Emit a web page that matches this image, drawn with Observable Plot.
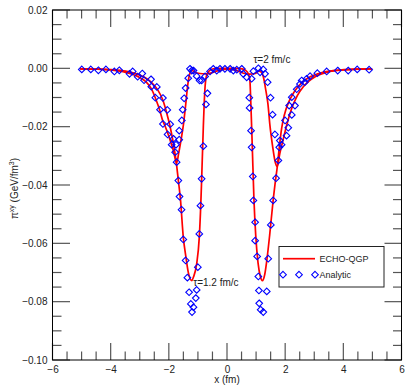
<!DOCTYPE html>
<html><head><meta charset="utf-8">
<script src="https://cdn.jsdelivr.net/npm/d3@7"></script>
<script src="https://cdn.jsdelivr.net/npm/@observablehq/plot@0.6"></script>
<style>body{margin:0;background:#fff;}</style>
</head><body><div id="chart"></div>
<script>
// ECHO-QGP curve, tau = 1.2 fm/c
const echoX12 = [-5.05,-4.5,-4.0,-3.5,-3.0,-2.8,-2.6,-2.4,-2.22,-2.1,-1.98,-1.85,-1.75,-1.69,-1.62,-1.52,-1.43,-1.35,-1.23,-1.17,-1.06,-0.97,-0.92,-0.89,-0.83,-0.78,-0.72,-0.62,-0.45,-0.2,0,0.2,0.45,0.62,0.72,0.77,0.80,0.85,0.91,0.97,1.05,1.13,1.20,1.28,1.36,1.45,1.57,1.64,1.71,1.78,1.86,1.95,2.10,2.30,2.55,2.80,3.00,3.50,4.00,4.50,4.95];
const echoY12 = [0,-0.0001,-0.0003,-0.0008,-0.0022,-0.0032,-0.0048,-0.0072,-0.0108,-0.0148,-0.0195,-0.0262,-0.0330,-0.0383,-0.0445,-0.0577,-0.0645,-0.0697,-0.0726,-0.0714,-0.0669,-0.0577,-0.0469,-0.0383,-0.0195,-0.0075,-0.0023,-0.0006,0.0001,0.0002,0.0002,0.0002,0.0001,-0.0005,-0.0018,-0.0040,-0.0110,-0.0260,-0.0449,-0.0570,-0.0665,-0.0712,-0.0726,-0.0705,-0.0650,-0.0570,-0.0450,-0.0390,-0.0337,-0.0270,-0.0205,-0.0160,-0.0115,-0.0078,-0.0048,-0.0030,-0.0021,-0.0008,-0.0003,-0.0001,0];
// ECHO-QGP curve, tau = 2 fm/c
const echoX2 = [-5.05,-4.5,-4.0,-3.5,-3.0,-2.8,-2.62,-2.46,-2.32,-2.23,-2.15,-2.05,-1.95,-1.85,-1.75,-1.68,-1.60,-1.52,-1.44,-1.37,-1.30,-1.22,-1.12,-0.95,-0.75,-0.55,-0.35,-0.15,0,0.15,0.35,0.55,0.75,0.95,1.08,1.17,1.25,1.32,1.39,1.46,1.55,1.63,1.71,1.80,1.92,2.03,2.20,2.40,2.60,2.80,3.00,3.50,4.00,4.50,4.95];
const echoY2 = [0,-0.0001,-0.0004,-0.0012,-0.0031,-0.0045,-0.0068,-0.0105,-0.0145,-0.0177,-0.0195,-0.0222,-0.0252,-0.0285,-0.0323,-0.0290,-0.0245,-0.0195,-0.0125,-0.0058,-0.0018,-0.0005,-0.0012,-0.0016,-0.0017,-0.0014,-0.0007,-0.0002,-0.0001,-0.0002,-0.0007,-0.0015,-0.0018,-0.0016,-0.0008,-0.0012,-0.0035,-0.0075,-0.0120,-0.0195,-0.0265,-0.0315,-0.0335,-0.0290,-0.0240,-0.0195,-0.0138,-0.0092,-0.0062,-0.0042,-0.0028,-0.0010,-0.0004,-0.0001,0];
// Analytic solution points
const analyticX = [-5.01,-4.70,-4.44,-4.18,-3.89,-3.72,-3.37,-3.26,-3.09,-2.93,-2.87,-2.63,-2.62,-2.43,-2.48,-2.22,-2.32,-2.07,-2.22,-1.97,-2.06,-1.92,-1.86,-1.77,-1.80,-1.75,
 -1.69,-1.65,-1.58,-1.52,-1.44,-1.38,-1.32,-1.26,-1.22,-1.17,-1.09,-1.06,-1.02,-0.97,-0.93,-0.89,-0.83,-0.74,-0.69,
 -1.66,-1.66,-1.57,-1.54,-1.49,-1.44,-1.35,-1.29,-1.23,-1.17,-1.06,-0.96,-0.89,-0.77,
 -0.60,-0.49,-0.37,-0.26,-0.09,0.09,0.20,0.32,0.49,0.54,0.66,0.83,0.89,
 0.75,0.76,0.81,0.83,0.87,0.89,0.95,0.95,1.02,1.06,1.08,1.09,1.14,1.23,1.35,1.40,1.49,1.57,1.67,
 1.06,1.12,1.23,1.29,1.38,1.48,1.55,1.63,
 1.75,1.78,1.80,1.86,
 1.98,2.03,2.09,2.12,2.21,2.21,2.32,2.38,2.49,2.55,2.66,2.72,2.84,3.09,3.41,3.79,4.15,4.46,4.87];
const analyticY = [-0.0002,-0.0002,-0.0005,-0.0002,-0.0009,-0.0005,-0.0017,-0.0009,-0.0027,-0.0016,-0.0039,-0.0036,-0.0061,-0.0062,-0.0099,-0.0100,-0.0140,-0.0141,-0.0189,-0.0190,-0.0225,-0.0260,-0.0240,-0.0260,-0.0286,-0.0320,
 -0.0383,-0.0438,-0.0483,-0.0585,-0.0657,-0.0716,-0.0766,-0.0806,-0.0834,-0.0817,-0.0786,-0.0758,-0.0680,-0.0566,-0.0469,-0.0377,-0.0265,-0.0122,-0.0084,
 -0.0212,-0.0243,-0.0177,-0.0140,-0.0101,-0.0066,-0.0032,0.0000,-0.0006,-0.0006,-0.0025,-0.0040,-0.0040,-0.0026,
 -0.0009,0.0000,-0.0006,0.0000,0.0000,0.0000,-0.0006,-0.0003,0.0000,-0.0017,-0.0029,-0.0034,-0.0008,
 -0.0099,-0.0134,-0.0212,-0.0269,-0.0369,-0.0451,-0.0526,-0.0589,-0.0643,-0.0712,-0.0760,-0.0804,-0.0826,-0.0834,-0.0763,-0.0651,-0.0535,-0.0451,-0.0375,
 0.0002,-0.0012,-0.0002,-0.0017,-0.0046,-0.0099,-0.0157,-0.0225,
 -0.0314,-0.0269,-0.0246,-0.0260,
 -0.0177,-0.0229,-0.0202,-0.0126,-0.0158,-0.0097,-0.0126,-0.0070,-0.0052,-0.0040,-0.0046,-0.0034,-0.0025,-0.0015,-0.0009,-0.0006,-0.0006,-0.0002,-0.0003];
// Annotations
const annoX = [0.89, -1.18];
const annoY = [0.0031, -0.0732];
const annoText = ["τ=2 fm/c", "τ=1.2 fm/c"];
// Ticks
const xMajor = [-6,-4,-2,0,2,4,6];
const xMinor = [-5.5,-5,-4.5,-3.5,-3,-2.5,-1.5,-1,-0.5,0.5,1,1.5,2.5,3,3.5,4.5,5,5.5];
const yMajor = [-0.10,-0.08,-0.06,-0.04,-0.02,0.00,0.02];
const yMinor = [-0.095,-0.09,-0.085,-0.075,-0.07,-0.065,-0.055,-0.05,-0.045,-0.035,-0.03,-0.025,-0.015,-0.01,-0.005,0.005,0.01,0.015];

const curve12 = echoX12.map((x, i) => ({x, y: echoY12[i]}));
const curve2 = echoX2.map((x, i) => ({x, y: echoY2[i]}));
const analytic = analyticX.map((x, i) => ({x, y: analyticY[i]}));
const annos = annoX.map((x, i) => ({x, y: annoY[i], text: annoText[i]}));

const W = 405, H = 387;
const ML = 52.5, MR = 3.5, MT = 10, MB = 27;
const xDomain = [-6, 6], yDomain = [-0.10, 0.02];
const chart = Plot.plot({
  width: W, height: H,
  marginLeft: ML, marginRight: MR, marginTop: MT, marginBottom: MB,
  style: {fontFamily: "'Liberation Sans', Arial, sans-serif", fontSize: "10px", background: "white", color: "#222"},
  x: {domain: xDomain, label: null},
  y: {domain: yDomain, label: null},
  marks: [
    Plot.axisX({anchor: "bottom", ticks: xMajor, tickSize: 0, tickPadding: 5, tickFormat: d3.format("d"), fontSize: 10}),
    Plot.axisY({anchor: "left", ticks: yMajor, tickSize: 0, tickPadding: 5.5, tickFormat: d3.format(".2f"), fontSize: 10}),
    Plot.line(curve12, {x: "x", y: "y", stroke: "#ff0000", strokeWidth: 1.7, curve: "monotone-x"}),
    Plot.line(curve2, {x: "x", y: "y", stroke: "#ff0000", strokeWidth: 1.7, curve: "monotone-x"}),
    Plot.dot(analytic, {x: "x", y: "y", symbol: "diamond2", r: 3, stroke: "#0000ff", strokeWidth: 1.1, fill: "none"}),
    Plot.text(annos, {x: "x", y: "y", text: "text", textAnchor: "start", fontSize: 10, fill: "#222"})
  ]
});
document.getElementById("chart").appendChild(chart);

const svg = d3.select(chart);
const x0 = ML, x1 = W - MR, y0 = MT, y1 = H - MB;
// same linear mapping as the plot's x and y scales
const sx = d3.scaleLinear().domain(xDomain).range([x0, x1]);
const sy = d3.scaleLinear().domain(yDomain).range([y1, y0]);
// inward tick marks on all four sides
const tg = svg.append("g");
function tick(ax, ay, bx, by) {
  tg.append("line").attr("x1", ax).attr("y1", ay).attr("x2", bx).attr("y2", by)
    .attr("stroke", "#555").attr("stroke-width", 1.2);
}
function xTicks(vals, len) {
  vals.forEach(v => { const px = sx(v); tick(px, y1, px, y1 - len); tick(px, y0, px, y0 + len); });
}
function yTicks(vals, lenL, lenR) {
  vals.forEach(v => { const py = sy(v); tick(x0, py, x0 + lenL, py); tick(x1, py, x1 - lenR, py); });
}
xTicks(xMajor, 17);
xTicks(xMinor, 8.5);
yTicks(yMajor, 17.5, 17);
yTicks(yMinor, 9, 8.5);
// plot frame
svg.append("rect").attr("x", x0).attr("y", y0).attr("width", x1 - x0).attr("height", y1 - y0)
  .attr("fill", "none").attr("stroke", "#000").attr("stroke-width", 1);

// y-axis title
const yl = svg.append("text")
  .attr("transform", "translate(17.5,188.5) rotate(-90)")
  .attr("text-anchor", "middle")
  .attr("fill", "#222")
  .style("font-size", "10px");
yl.append("tspan").text("π");
yl.append("tspan").attr("dy", -4).style("font-size", "7px").text("xy");
yl.append("tspan").attr("dy", 4).text(" (GeV/fm");
yl.append("tspan").attr("dy", -4).style("font-size", "7px").text("3");
yl.append("tspan").attr("dy", 4).text(")");
// x-axis title
svg.append("text").attr("x", 227).attr("y", 383).attr("text-anchor", "middle")
  .attr("fill", "#222").style("font-size", "10px").text("x (fm)");
// legend
const lg = svg.append("g").attr("text-anchor", "start");
lg.append("rect").attr("x", 279).attr("y", 246.5).attr("width", 105).attr("height", 40.5)
  .attr("fill", "white").attr("stroke", "#222").attr("stroke-width", 1);
lg.append("line").attr("x1", 283).attr("x2", 315).attr("y1", 258.7).attr("y2", 258.7)
  .attr("stroke", "#ff0000").attr("stroke-width", 1.7);
lg.append("text").attr("x", 319.5).attr("y", 262).attr("text-anchor", "start").attr("fill", "#222").style("font-size", "9px").text("ECHO-QGP");
const sym = d3.symbol().type(d3.symbolDiamond2).size(Math.PI * 9);
[283, 299, 315].forEach(cx => {
  lg.append("path").attr("d", sym()).attr("transform", `translate(${cx},274.7)`)
    .attr("fill", "none").attr("stroke", "#0000ff").attr("stroke-width", 1.1);
});
lg.append("text").attr("x", 319.5).attr("y", 278).attr("text-anchor", "start").attr("fill", "#222").style("font-size", "9px").text("Analytic");
</script>
</body></html>
